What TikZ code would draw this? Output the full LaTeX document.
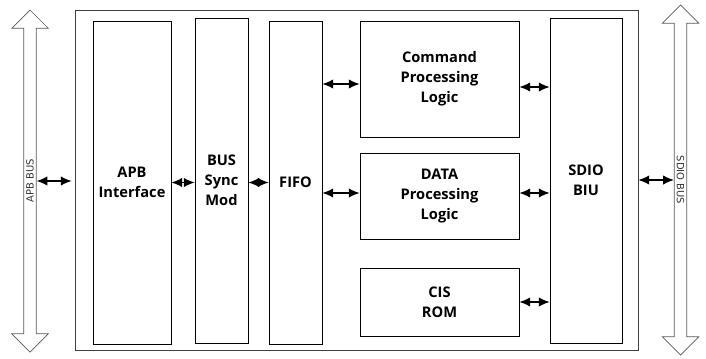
\documentclass[tikz,border=0pt]{standalone}
\usepackage{fontspec}
\setmainfont{Open Sans}
\newfontfamily\busfont{DejaVu Sans}
\usetikzlibrary{arrows.meta,shapes.arrows}
\newcommand{\px}{0.03cm}
\tikzset{
  block/.style={draw, line width=0.8pt, align=center, inner sep=0pt,
    font=\bfseries\fontsize{12.5}{17}\selectfont},
  bus/.style={double arrow, draw=black!65, fill=white, line width=0.6pt,
    double arrow head extend=12*\px, minimum height=#1*\px,
    inner xsep=0pt, inner ysep=2.1pt, text height=6pt, text depth=0pt,
    font=\busfont\fontsize{8.5}{10}\selectfont, text=black!80},
  link/.style={{Latex[length=3.2mm,width=2.8mm]}-{Latex[length=3.2mm,width=2.8mm]}, line width=1pt},
}
\begin{document}
\begin{tikzpicture}[x=\px,y=-\px]
    \useasboundingbox (0,0) rectangle (706,358);
    \node[draw=black!75, line width=0.8pt, inner sep=0pt, minimum width=563*\px, minimum height=340*\px] (chip) at (356.5,180) {};
    \node[block, minimum width=78*\px, minimum height=323*\px] (apb) at (132,182.5) {APB\\Interface};
    \node[block, minimum width=53*\px, minimum height=325*\px] (sync) at (221.5,180.5) {BUS\\Sync\\Mod};
    \node[block, minimum width=53*\px, minimum height=323*\px] (fifo) at (295.5,182.5) {FIFO};
    \node[block, minimum width=159*\px, minimum height=116*\px] (cmd) at (439.5,79) {Command\\Processing\\Logic};
    \node[block, minimum width=159*\px, minimum height=86*\px] (data) at (439.5,196) {DATA\\Processing\\Logic};
    \node[block, minimum width=159*\px, minimum height=68*\px] (cis) at (439.5,302) {CIS\\ROM};
    \node[block, minimum width=72*\px, minimum height=325*\px] (biu) at (586,180.5) {SDIO\\BIU};
    \node[bus=342, rotate=90] (apbbus) at (30,181) {APB BUS};
    \node[bus=350, rotate=-90] (sdiobus) at (680.5,180) {SDIO BUS};
    \draw[link, shorten >=3*\px] (apbbus.south) -- (apbbus.south -| chip.west);
    \draw[link] (apb.east) -- (apb.east -| sync.west);
    \draw[link] (fifo.west -| sync.east) -- (fifo.west);
    \draw[link] ([yshift=-5*\px]cmd.west -| fifo.east) -- ([yshift=-5*\px]cmd.west);
    \draw[link] ([yshift=3*\px]data.west -| fifo.east) -- ([yshift=3*\px]data.west);
    \draw[link] ([yshift=-8*\px]cmd.east) -- ([yshift=-8*\px]cmd.east -| biu.west);
    \draw[link] ([yshift=3*\px]data.east) -- ([yshift=3*\px]data.east -| biu.west);
    \draw[link] (cis.east) -- (cis.east -| biu.west);
    \draw[link] (chip.east |- sdiobus.south) -- (sdiobus.south);
\end{tikzpicture}
\end{document}
